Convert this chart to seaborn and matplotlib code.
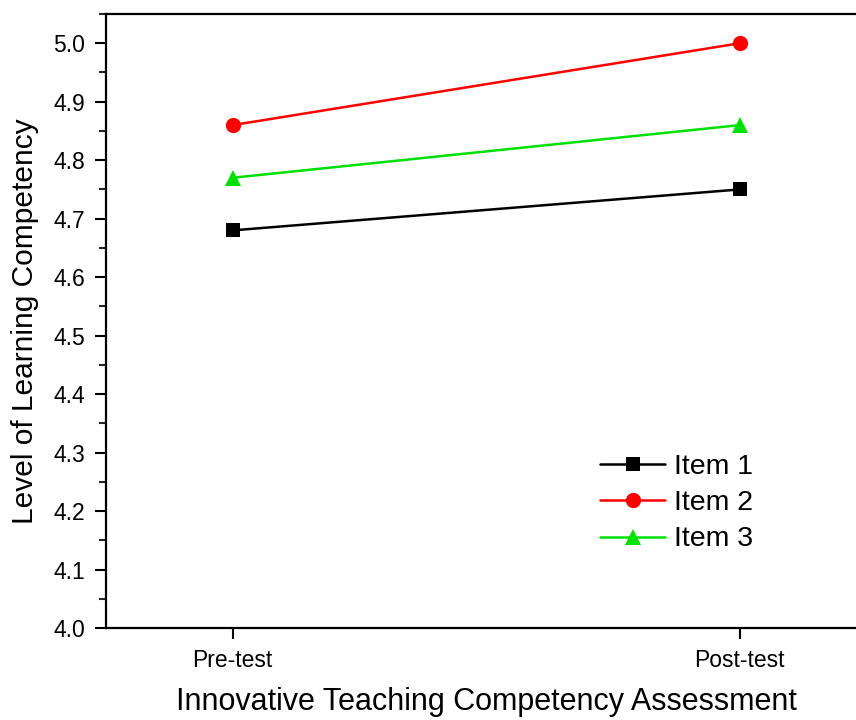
import matplotlib
matplotlib.use("Agg")
import matplotlib.pyplot as plt
import numpy as np
import pandas as pd
import seaborn as sns
from matplotlib.ticker import MultipleLocator

# data
stages = ["Pre-test", "Post-test"]
items = ["Item 1", "Item 2", "Item 3"]
item1 = [4.68, 4.75]
item2 = [4.86, 5.00]
item3 = [4.77, 4.86]

colors = {"Item 1": "#000000", "Item 2": "#ff0000", "Item 3": "#00e000"}
markers = {"Item 1": "s", "Item 2": "o", "Item 3": "^"}
msizes = {"Item 1": 9.5, "Item 2": 11, "Item 3": 12}

sns.set_theme(style="ticks")
plt.rcParams["font.family"] = ["Liberation Sans", "DejaVu Sans"]
plt.rcParams["text.color"] = "black"

df = pd.DataFrame(
    {
        "stage": np.tile(np.arange(len(stages)), len(items)),
        "value": item1 + item2 + item3,
        "item": np.repeat(items, len(stages)),
    }
)

fig = plt.figure(figsize=(8.56, 7.2), dpi=100)
ax = fig.add_axes([106 / 856, 92 / 720, 1.5 * 507 / 856, 614 / 720])

for name in items:
    sub = df[df["item"] == name]
    sns.lineplot(
        data=sub, x="stage", y="value", ax=ax, color=colors[name],
        marker=markers[name], markersize=msizes[name], markeredgewidth=0,
        linewidth=1.8, label=name,
    )

ax.set_xlim(-0.25, 1.25)
ax.set_ylim(4.0, 5.05)
ax.set_xticks(range(len(stages)))
ax.set_xticklabels(stages)
ax.yaxis.set_major_locator(MultipleLocator(0.1))
ax.yaxis.set_minor_locator(MultipleLocator(0.05))
ax.set_yticks(np.round(np.arange(4.0, 5.01, 0.1), 1))
ax.set_yticklabels([f"{v:.1f}" for v in np.arange(4.0, 5.01, 0.1)])

for side in ["left", "bottom", "top"]:
    ax.spines[side].set_linewidth(1.6)
    ax.spines[side].set_color("black")
ax.spines["right"].set_visible(False)

ax.tick_params(axis="y", which="major", length=8, width=1.5, labelsize=16.5, pad=7, colors="black")
ax.tick_params(axis="y", which="minor", length=5, width=1.5, left=True)
ax.tick_params(axis="x", which="major", length=8, width=1.5, labelsize=16.5, pad=7, colors="black")
ax.tick_params(axis="x", which="minor", bottom=False)

ax.set_xlabel("Innovative Teaching Competency Assessment", fontsize=22, labelpad=11, color="black")
ax.set_ylabel("Level of Learning Competency", fontsize=21.5, labelpad=10, color="black")

ax.legend(
    loc="upper left", bbox_to_anchor=(600 / 856, 1 - 454 / 720),
    bbox_transform=fig.transFigure, frameon=False, fontsize=20.5,
    handlelength=2.3, handletextpad=0.3, labelspacing=0.36, borderpad=0,
    borderaxespad=0,
)

fig.savefig("out.png", dpi=100)
